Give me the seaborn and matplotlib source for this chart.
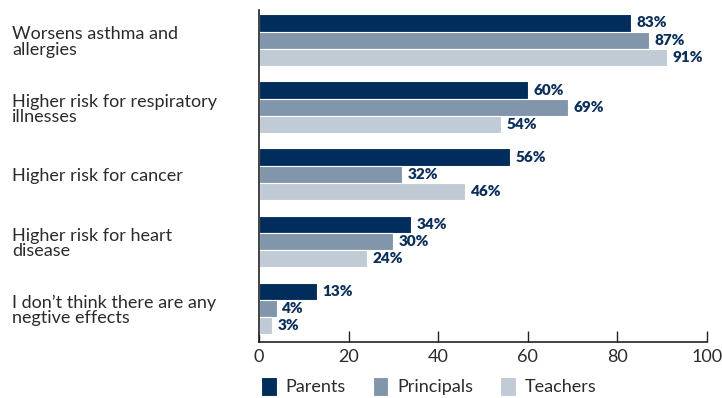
import matplotlib
matplotlib.use("Agg")
import matplotlib.pyplot as plt
import matplotlib.transforms as mtransforms
import seaborn as sns
import pandas as pd

# Perceived health effects, share of respondents (%)
effects = [
    "Worsens asthma and\nallergies",
    "Higher risk for respiratory\nillnesses",
    "Higher risk for cancer",
    "Higher risk for heart\ndisease",
    "I don\u2019t think there are any\nnegtive effects",
]
groups = ["Parents", "Principals", "Teachers"]
parents = [83, 60, 56, 34, 13]
principals = [87, 69, 32, 30, 4]
teachers = [91, 54, 46, 24, 3]
x_ticks = [0, 20, 40, 60, 80, 100]

colors = ["#002D5B", "#8296AB", "#C1CBD6"]
label_color = "#0B2F5B"
text_color = "#2B2B2B"

df = pd.DataFrame({
    "effect": effects * 3,
    "group": [g for g in groups for _ in effects],
    "value": parents + principals + teachers,
})

sns.set_theme(style="white")
plt.rcParams["font.family"] = ["Lato", "DejaVu Sans"]

fig = plt.figure(figsize=(7.22, 3.98), dpi=100)
ax = fig.add_axes([0.3587, 0.1407, 0.6205, 0.8343])

sns.barplot(data=df, y="effect", x="value", hue="group", order=effects,
            hue_order=groups, palette=colors, orient="h", width=0.77,
            saturation=1, ax=ax, edgecolor="white", linewidth=0.8)

for cont in ax.containers:
    ax.bar_label(cont, fmt="{:.0f}%", padding=4, color=label_color,
                 fontsize=11, fontweight="heavy")

ax.set_xlim(0, 100)
ax.set_ylim(4.5, -0.45)
ax.set_xticks(x_ticks)
ax.set_xticklabels([str(t) for t in x_ticks], fontsize=13, color=text_color)
ax.tick_params(axis="x", direction="in", length=8, width=1, color="#222222",
               pad=5, bottom=True)
ax.set_yticks(range(len(effects)))
ax.set_yticklabels([])
ax.tick_params(axis="y", length=0)
ax.set_xlabel("")
ax.set_ylabel("")

for side in ["top", "right"]:
    ax.spines[side].set_visible(False)
for side in ["left", "bottom"]:
    ax.spines[side].set_color("#222222")
    ax.spines[side].set_linewidth(1.2)

# Category labels, left-aligned at the figure edge
trans = mtransforms.blended_transform_factory(fig.transFigure, ax.transData)
for i, lab in enumerate(effects):
    ax.text(12 / 722, i + 0.03, lab, transform=trans, ha="left", va="center",
            fontsize=13, color=text_color, linespacing=0.95)

handles, labels = ax.get_legend_handles_labels()
ax.legend_.remove()
fig.legend(handles, labels, loc="lower left", bbox_to_anchor=(254 / 722, -0.012),
           ncol=3, frameon=False, fontsize=13, handlelength=0.85,
           handleheight=1.2, handletextpad=0.5, columnspacing=1.5,
           labelcolor=text_color, borderaxespad=0)

fig.savefig("out.png", dpi=100, facecolor="white")
